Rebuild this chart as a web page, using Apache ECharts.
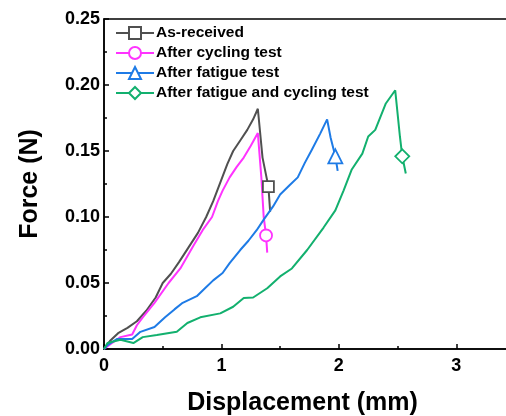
<!DOCTYPE html>
<html><head><meta charset="utf-8">
<script src="https://cdn.jsdelivr.net/npm/echarts@6/dist/echarts.min.js"></script>
<style>html,body{margin:0;padding:0;background:#fff;overflow:hidden}#c{width:506px;height:416px}</style>
</head><body><div id="c"></div>
<script>
const names = ['As-received','After cycling test','After fatigue test','After fatigue and cycling test'];
const colors = ['#505050','#ff33ff','#1e7be6','#12b06e'];
const symbols = ['rect','circle','triangle','diamond'];

const asX = [0,0.05,0.12,0.2,0.28,0.36,0.44,0.5,0.57,0.64,0.72,0.8,0.87,0.93,0.99,1.05,1.10,1.16,1.22,1.27,1.31,1.35,1.40,1.415];
const asY = [0,0.006,0.012,0.016,0.021,0.029,0.039,0.05,0.057,0.066,0.077,0.088,0.100,0.112,0.126,0.140,0.150,0.158,0.166,0.174,0.182,0.145,0.123,0.104];
const asMark = 22;

const cyX = [0,0.06,0.14,0.24,0.28,0.33,0.43,0.55,0.65,0.76,0.84,0.92,0.97,1.01,1.07,1.13,1.19,1.25,1.31,1.34,1.36,1.38,1.39];
const cyY = [0,0.004,0.009,0.011,0.018,0.024,0.035,0.05,0.061,0.078,0.090,0.100,0.112,0.12,0.130,0.138,0.145,0.154,0.1636,0.13,0.10,0.086,0.073];
const cyMark = 21;

const faX = [0,0.03,0.11,0.24,0.31,0.43,0.52,0.60,0.67,0.79,0.86,0.93,1.01,1.07,1.16,1.23,1.30,1.36,1.44,1.50,1.58,1.65,1.71,1.77,1.84,1.90,1.93,1.97,1.99];
const faY = [0,0.003,0.0076,0.0076,0.013,0.0167,0.024,0.030,0.035,0.040,0.046,0.052,0.0576,0.065,0.075,0.082,0.09,0.098,0.108,0.117,0.124,0.13,0.141,0.151,0.163,0.174,0.160,0.146,0.135];
const faMark = 27;

const fcX = [0,0.03,0.14,0.25,0.33,0.45,0.62,0.71,0.82,0.99,1.10,1.19,1.27,1.39,1.50,1.60,1.73,1.87,1.97,2.04,2.11,2.20,2.25,2.31,2.40,2.48,2.52,2.54,2.57];
const fcY = [0,0.0045,0.007,0.0045,0.009,0.0106,0.013,0.0197,0.024,0.027,0.032,0.0386,0.039,0.046,0.055,0.061,0.075,0.092,0.105,0.12,0.136,0.148,0.161,0.166,0.186,0.196,0.161,0.146,0.133];
const fcMark = 27;

const xTicks = [0,1,2,3];
const yTicks = ['0.00','0.05','0.10','0.15','0.20','0.25'];

const sets = [[asX,asY,asMark],[cyX,cyY,cyMark],[faX,faY,faMark],[fcX,fcY,fcMark]];
const font = '"Liberation Sans", Arial, sans-serif';
const symSize = [11,12,14,14];

const series = sets.map((s,i)=>({
  name: names[i], type:'line', symbol: symbols[i], symbolSize: symSize[i],
  showSymbol:true, showAllSymbol:true, animation:false, clip:false,
  lineStyle:{color:colors[i], width:2},
  itemStyle:{color:'#fff', borderColor:colors[i], borderWidth:1.8},
  data: s[0].map((x,j)=> j===s[2] ? {value:[x,s[1][j]]} : {value:[x,s[1][j]], symbol:'none'})
}));

const chart = echarts.init(document.getElementById('c'), null, {renderer:'canvas'});
chart.setOption({
  animation:false,
  backgroundColor:'#fff',
  grid:{left:104, top:19, height:330, width:411, outerBoundsMode:'none', containLabel:false,
    show:true, borderColor:'#000', borderWidth:1.5, backgroundColor:'transparent'},
  legend:{
    left:110, top:20, orient:'vertical', itemWidth:38, itemHeight:15, itemGap:4,
    textStyle:{fontFamily:font, fontWeight:'bold', fontSize:15.5, color:'#000', padding:[0,0,0,-3]},
    data:names
  },
  xAxis:{
    type:'value', min:0, max:3.5, interval:1,
    name:'Displacement (mm)', nameLocation:'middle', nameGap:42,
    nameTextStyle:{fontFamily:font, fontWeight:'bold', fontSize:25, color:'#000', padding:[0,14,0,0]},
    axisLine:{show:true, onZero:false, lineStyle:{color:'#000', width:1.5}},
    axisTick:{show:true, inside:true, length:5, lineStyle:{color:'#000', width:1.5}},
    minorTick:{show:true, splitNumber:2, length:3, lineStyle:{color:'#000', width:1.5}},
    axisLabel:{fontFamily:font, fontWeight:'bold', fontSize:18, color:'#000', margin:8,
      formatter:(v)=> xTicks.includes(v) ? String(v) : ''},
    splitLine:{show:false}
  },
  yAxis:{
    type:'value', min:0, max:0.25, interval:0.05,
    name:'Force (N)', nameLocation:'middle', nameGap:61,
    nameTextStyle:{fontFamily:font, fontWeight:'bold', fontSize:25, color:'#000'},
    axisLine:{show:true, lineStyle:{color:'#000', width:1.5}},
    axisTick:{show:true, inside:true, length:5, lineStyle:{color:'#000', width:1.5}},
    minorTick:{show:true, splitNumber:2, length:3, lineStyle:{color:'#000', width:1.5}},
    axisLabel:{fontFamily:font, fontWeight:'bold', fontSize:18, color:'#000', margin:4,
      formatter:(v)=> yTicks[Math.round(v/0.05)]},
    splitLine:{show:false}
  },
  series
});
</script></body></html>
